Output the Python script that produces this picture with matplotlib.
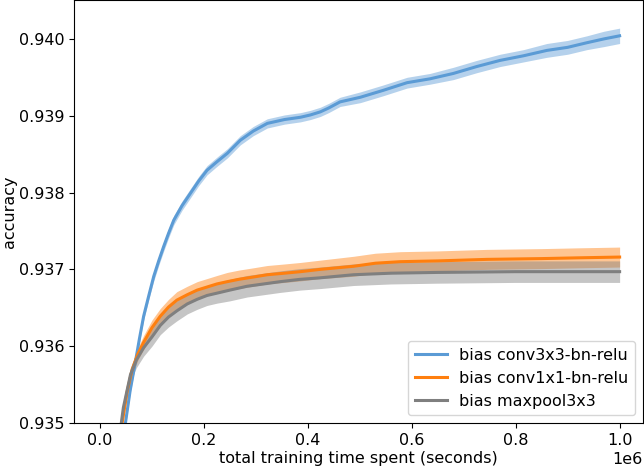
import matplotlib
matplotlib.use("Agg")
import matplotlib.pyplot as plt
import numpy as np

plt.rcParams['font.family'] = ['DejaVu Sans']
plt.rcParams['font.size'] = 11.5

# --- data (x in units of 1e6 seconds) ---
blue_x = [0.030, 0.049, 0.058, 0.068, 0.076, 0.084, 0.094, 0.1035, 0.113, 0.1227,
          0.132, 0.142, 0.158, 0.174, 0.190, 0.206, 0.225, 0.245, 0.270, 0.295,
          0.322, 0.355, 0.386, 0.405, 0.424, 0.440, 0.462, 0.501, 0.545, 0.591,
          0.635, 0.680, 0.725, 0.770, 0.815, 0.860, 0.900, 0.937, 0.970, 1.000]
blue_y = [0.93440, 0.93500, 0.93542, 0.93579, 0.93610, 0.93639, 0.93666, 0.93691, 0.93711, 0.93730,
          0.93747, 0.93764, 0.93783, 0.93799, 0.93815, 0.93829, 0.93840, 0.93851, 0.93868, 0.93880,
          0.93890, 0.93895, 0.93898, 0.93901, 0.93905, 0.93910, 0.93918, 0.93924, 0.93933, 0.93943,
          0.93948, 0.93955, 0.93964, 0.93972, 0.93978, 0.93985, 0.93989, 0.93995, 0.94000, 0.94004]
blue_err = [0.00004, 0.00004, 0.00004, 0.00005, 0.00005, 0.00005, 0.00005, 0.00006, 0.00006, 0.00006,
            0.00006, 0.00006, 0.00006, 0.00006, 0.00006, 0.00006, 0.00006, 0.00006, 0.00006, 0.00006,
            0.00006, 0.00006, 0.00006, 0.00006, 0.00006, 0.00006, 0.00006, 0.00007, 0.00007, 0.00007,
            0.00007, 0.00008, 0.00008, 0.00008, 0.00008, 0.00009, 0.00009, 0.00009, 0.00010, 0.00010]

orange_x = [0.025, 0.0426, 0.052, 0.062, 0.073, 0.084, 0.100, 0.116, 0.132, 0.148,
            0.168, 0.187, 0.206, 0.225, 0.245, 0.267, 0.295, 0.322, 0.355, 0.386,
            0.424, 0.488, 0.530, 0.578, 0.650, 0.745, 0.850, 0.920, 1.000]
orange_y = [0.93400, 0.93500, 0.93540, 0.93570, 0.93590, 0.93605, 0.93624, 0.93639, 0.93651, 0.93660,
            0.93667, 0.93673, 0.93677, 0.93681, 0.93684, 0.93687, 0.93690, 0.93693, 0.93695, 0.93697,
            0.93700, 0.93704, 0.93708, 0.93710, 0.93711, 0.93713, 0.93714, 0.93715, 0.93716]
orange_err = [0.00005, 0.00006, 0.00007, 0.00007, 0.00008, 0.00009, 0.00010, 0.00010, 0.00010, 0.00011,
              0.00011, 0.00011, 0.00011, 0.00011, 0.00012, 0.00012, 0.00012, 0.00012, 0.00012, 0.00012,
              0.00012, 0.00013, 0.00013, 0.00013, 0.00013, 0.00013, 0.00013, 0.00013, 0.00013]

gray_x = [0.025, 0.045, 0.0587, 0.070, 0.084, 0.100, 0.116, 0.132, 0.148, 0.168,
          0.187, 0.206, 0.225, 0.250, 0.283, 0.315, 0.347, 0.385, 0.424, 0.488,
          0.560, 0.649, 0.800, 1.000]
gray_y = [0.93420, 0.93520, 0.93563, 0.93582, 0.93598, 0.93612, 0.93627, 0.93638, 0.93646, 0.93655,
          0.93661, 0.93666, 0.93669, 0.93673, 0.93678, 0.93681, 0.93684, 0.93687, 0.93689, 0.93693,
          0.93695, 0.93696, 0.93697, 0.93697]
gray_err = [0.00006, 0.00008, 0.00009, 0.00010, 0.00011, 0.00012, 0.00012, 0.00013, 0.00013, 0.00013,
            0.00013, 0.00013, 0.00013, 0.00014, 0.00014, 0.00014, 0.00014, 0.00014, 0.00014, 0.00014,
            0.00014, 0.00014, 0.00014, 0.00014]

labels = ["bias conv3x3-bn-relu", "bias conv1x1-bn-relu", "bias maxpool3x3"]
colors = ["#5b9bd5", "#ff7f0e", "#7f7f7f"]

fig = plt.figure(figsize=(6.44, 4.73), dpi=100)
ax = fig.add_axes([74/644, 50/473, (643-74)/644, 423/473 - 0.001])

series = [(blue_x, blue_y, blue_err), (orange_x, orange_y, orange_err), (gray_x, gray_y, gray_err)]
for (x, y, e), lab, c in zip(series, labels, colors):
    x = np.array(x) * 1e6
    y = np.array(y)
    e = np.array(e)
    ax.plot(x, y, color=c, lw=2.2, label=lab)
    ax.fill_between(x, y - e, y + e, color=c, alpha=0.45, lw=0)

ax.set_xlim(-0.05e6, 1.045e6)
ax.set_ylim(0.935, 0.9405)
ax.set_yticks([0.935, 0.936, 0.937, 0.938, 0.939, 0.940])
ax.tick_params(axis='y', pad=3)
ax.set_xlabel("total training time spent (seconds)", labelpad=2)
ax.set_ylabel("accuracy", labelpad=2)
ax.legend(loc="lower right")

fig.savefig("out.png", dpi=100)
